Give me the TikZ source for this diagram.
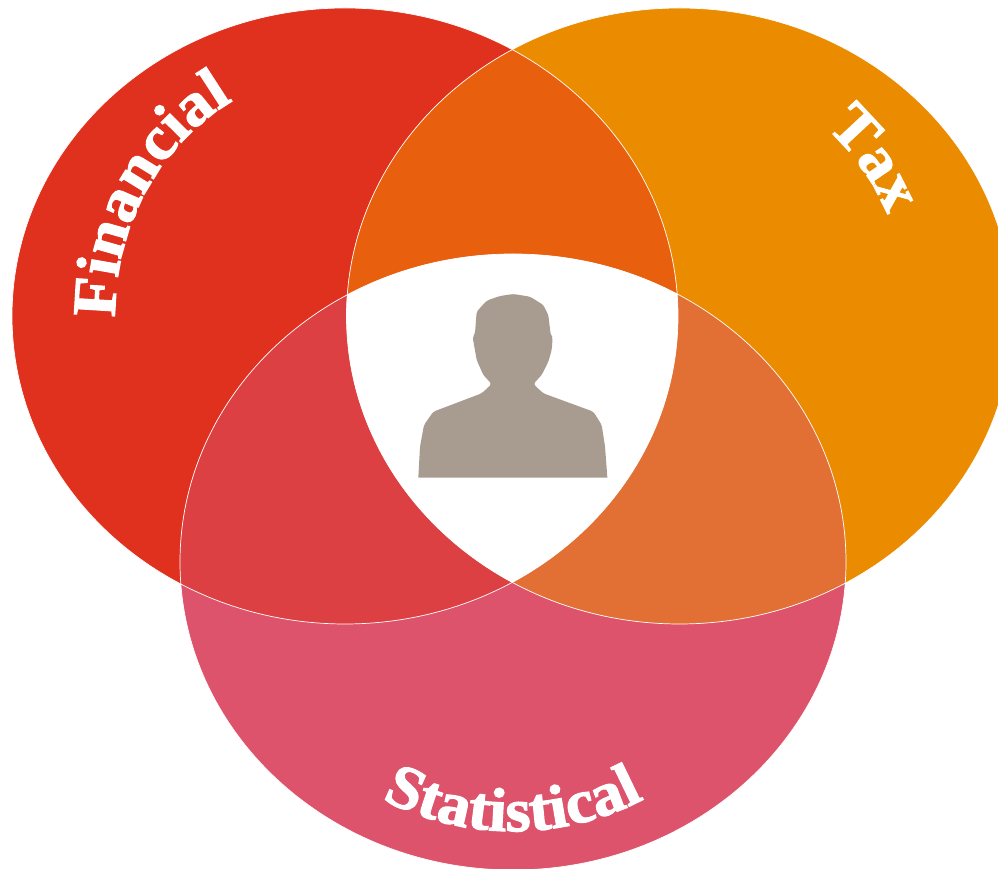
\documentclass[tikz,border=0pt]{standalone}
\usepackage{fontspec}
\newfontfamily\vennfont[FakeStretch=1.05,FakeBold=2]{Liberation Serif}
\usetikzlibrary{decorations.text}

\definecolor{finred}{HTML}{E0301E}
\definecolor{taxorange}{HTML}{EB8C00}
\definecolor{statpink}{HTML}{DD536B}
\definecolor{fintax}{HTML}{E8600E}
\definecolor{finstat}{HTML}{DC4042}
\definecolor{taxstat}{HTML}{E27035}
\definecolor{person}{HTML}{A89B90}

\def\fincircle{(6.9,11.06) ellipse [x radius=6.66cm, y radius=6.16cm]}
\def\taxcircle{(13.59,11.06) ellipse [x radius=6.66cm, y radius=6.16cm]}
\def\statcircle{(10.26,6.14) ellipse [x radius=6.66cm, y radius=6.16cm]}

\tikzset{
  venntext/.style={decorate,decoration={text along path,text align=center,
    text={|\fontsize{35}{35}\bfseries\vennfont\color{white}|#1}}}
}

\begin{document}
\begin{tikzpicture}
  \useasboundingbox (0,0) rectangle (19.96,17.38);

  \fill [color=finred] \fincircle;
  \fill [color=taxorange] \taxcircle;
  \fill [color=statpink] \statcircle;

  \begin{scope}
    \clip \fincircle;
    \fill [color=fintax] \taxcircle;
    \fill [color=finstat] \statcircle;
  \end{scope}
  \begin{scope}
    \clip \taxcircle;
    \fill [color=taxstat] \statcircle;
    \clip \fincircle;
    \fill [color=white] \statcircle;
  \end{scope}

  \draw [thin,color=white] \fincircle;
  \draw [thin,color=white] \taxcircle;
  \draw [thin,color=white] \statcircle;

  % silhouette
  \fill [color=person,rounded corners=1.5pt,x=0.00667cm,y=-0.00667cm,shift={(8cm,11.78cm)}]
    (55,593) -- (60,500) -- (72,435) -- (100,395) -- (245,340) -- (275,312) -- (250,285) -- (230,240)
    -- (218,172) -- (225,160) -- (230,95) -- (260,62) -- (300,48) -- (340,42) -- (390,50) -- (430,75)
    -- (445,105) -- (452,165) -- (458,172) -- (455,210) -- (445,245) -- (425,285) -- (400,312)
    -- (430,340) -- (580,395) -- (605,435) -- (615,500) [sharp corners] -- (622,593) -- cycle;

  \path [venntext=Financial] (2.31,10.85) arc [start angle=183,end angle=117,x radius=4.6cm,y radius=4.88cm];
  \path [venntext=Tax] (16.63,14.72) arc [start angle=48,end angle=26,x radius=4.6cm,y radius=4.88cm];
  \path [venntext=Statistical] (7.51,1.47) arc [start angle=240,end angle=300,x radius=5.5cm,y radius=5.32cm];
\end{tikzpicture}
\end{document}
